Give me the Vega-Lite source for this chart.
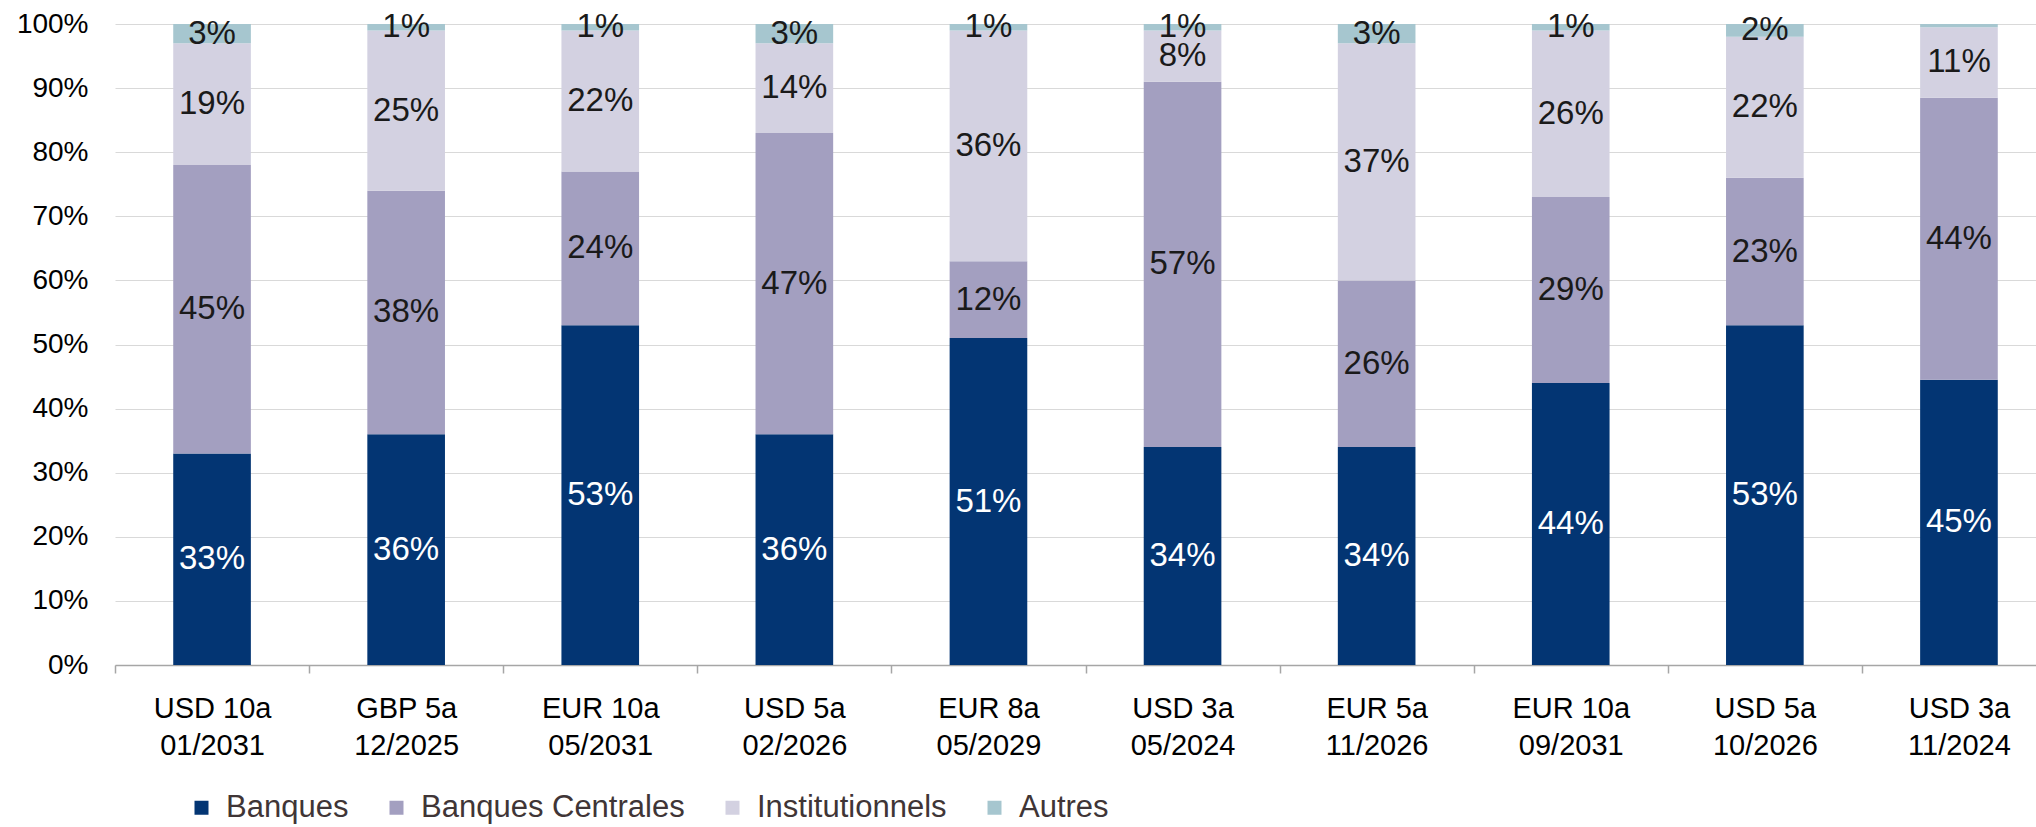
{
  "$schema": "https://vega.github.io/schema/vega-lite/v6.json",
  "autosize": {"type": "none"},
  "padding": {"left": 115, "top": 24, "right": 0, "bottom": 162},
  "width": 1921,
  "height": 641,
  "background": "white",
  "config": {
    "font": "Liberation Sans",
    "view": {"stroke": null}
  },
  "data": {
    "values": [
      {"b": "USD 10a 01/2031", "s": "Banques", "k": 0, "v": 0.33},
      {"b": "USD 10a 01/2031", "s": "Banques Centrales", "k": 1, "v": 0.45},
      {"b": "USD 10a 01/2031", "s": "Institutionnels", "k": 2, "v": 0.19},
      {"b": "USD 10a 01/2031", "s": "Autres", "k": 3, "v": 0.03},
      {"b": "GBP 5a 12/2025", "s": "Banques", "k": 0, "v": 0.36},
      {"b": "GBP 5a 12/2025", "s": "Banques Centrales", "k": 1, "v": 0.38},
      {"b": "GBP 5a 12/2025", "s": "Institutionnels", "k": 2, "v": 0.25},
      {"b": "GBP 5a 12/2025", "s": "Autres", "k": 3, "v": 0.01},
      {"b": "EUR 10a 05/2031", "s": "Banques", "k": 0, "v": 0.53},
      {"b": "EUR 10a 05/2031", "s": "Banques Centrales", "k": 1, "v": 0.24},
      {"b": "EUR 10a 05/2031", "s": "Institutionnels", "k": 2, "v": 0.22},
      {"b": "EUR 10a 05/2031", "s": "Autres", "k": 3, "v": 0.01},
      {"b": "USD 5a 02/2026", "s": "Banques", "k": 0, "v": 0.36},
      {"b": "USD 5a 02/2026", "s": "Banques Centrales", "k": 1, "v": 0.47},
      {"b": "USD 5a 02/2026", "s": "Institutionnels", "k": 2, "v": 0.14},
      {"b": "USD 5a 02/2026", "s": "Autres", "k": 3, "v": 0.03},
      {"b": "EUR 8a 05/2029", "s": "Banques", "k": 0, "v": 0.51},
      {"b": "EUR 8a 05/2029", "s": "Banques Centrales", "k": 1, "v": 0.12},
      {"b": "EUR 8a 05/2029", "s": "Institutionnels", "k": 2, "v": 0.36},
      {"b": "EUR 8a 05/2029", "s": "Autres", "k": 3, "v": 0.01},
      {"b": "USD 3a 05/2024", "s": "Banques", "k": 0, "v": 0.34},
      {"b": "USD 3a 05/2024", "s": "Banques Centrales", "k": 1, "v": 0.57},
      {"b": "USD 3a 05/2024", "s": "Institutionnels", "k": 2, "v": 0.08},
      {"b": "USD 3a 05/2024", "s": "Autres", "k": 3, "v": 0.01},
      {"b": "EUR 5a 11/2026", "s": "Banques", "k": 0, "v": 0.34},
      {"b": "EUR 5a 11/2026", "s": "Banques Centrales", "k": 1, "v": 0.26},
      {"b": "EUR 5a 11/2026", "s": "Institutionnels", "k": 2, "v": 0.37},
      {"b": "EUR 5a 11/2026", "s": "Autres", "k": 3, "v": 0.03},
      {"b": "EUR 10a 09/2031", "s": "Banques", "k": 0, "v": 0.44},
      {"b": "EUR 10a 09/2031", "s": "Banques Centrales", "k": 1, "v": 0.29},
      {"b": "EUR 10a 09/2031", "s": "Institutionnels", "k": 2, "v": 0.26},
      {"b": "EUR 10a 09/2031", "s": "Autres", "k": 3, "v": 0.01},
      {"b": "USD 5a 10/2026", "s": "Banques", "k": 0, "v": 0.53},
      {"b": "USD 5a 10/2026", "s": "Banques Centrales", "k": 1, "v": 0.23},
      {"b": "USD 5a 10/2026", "s": "Institutionnels", "k": 2, "v": 0.22},
      {"b": "USD 5a 10/2026", "s": "Autres", "k": 3, "v": 0.02},
      {"b": "USD 3a 11/2024", "s": "Banques", "k": 0, "v": 0.445},
      {"b": "USD 3a 11/2024", "s": "Banques Centrales", "k": 1, "v": 0.44},
      {"b": "USD 3a 11/2024", "s": "Institutionnels", "k": 2, "v": 0.11},
      {"b": "USD 3a 11/2024", "s": "Autres", "k": 3, "v": 0.005}
    ]
  },
  "encoding": {
    "x": {
      "field": "b",
      "type": "nominal",
      "sort": null,
      "title": null,
      "scale": {"range": [0, 1941], "paddingInner": 0.6, "paddingOuter": 0.3},
      "axis": {
        "labelAngle": 0,
        "labelExpr": "[slice(datum.value, 0, lastindexof(datum.value, ' ')), slice(datum.value, lastindexof(datum.value, ' ') + 1)]",
        "labelFontSize": 29,
        "labelColor": "#000000",
        "labelLineHeight": 37,
        "labelPadding": 21,
        "tickOffset": -97,
        "labelOffset": 97,
        "tickSize": 8,
        "tickColor": "#a6a6a6",
        "tickWidth": 1.5,
        "domainColor": "#a6a6a6",
        "domainWidth": 1.5,
        "labelBound": false,
        "labelOverlap": false
      }
    },
    "y": {
      "field": "v",
      "type": "quantitative",
      "stack": "zero",
      "title": null,
      "scale": {"domain": [0, 1], "nice": false},
      "axis": {
        "format": ".0%",
        "values": [0, 0.1, 0.2, 0.3, 0.4, 0.5, 0.6, 0.7, 0.8, 0.9, 1],
        "labelFontSize": 28,
        "labelColor": "#000000",
        "labelPadding": 27,
        "ticks": false,
        "domain": false,
        "grid": true,
        "gridColor": "#d9d9d9",
        "gridWidth": 1.2
      }
    },
    "order": {"field": "k", "type": "quantitative"}
  },
  "layer": [
    {
      "mark": {"type": "bar"},
      "encoding": {
        "color": {
          "field": "s",
          "type": "nominal",
          "scale": {
            "domain": ["Banques", "Banques Centrales", "Institutionnels", "Autres"],
            "range": ["#033573", "#a39fc0", "#d3d1e1", "#a6c6cf"]
          },
          "legend": {
            "title": null,
            "orient": "none",
            "direction": "horizontal",
            "legendX": 71,
            "legendY": 768,
            "symbolType": "square",
            "symbolSize": 196,
            "symbolStrokeWidth": 0,
            "labelFontSize": 31,
            "labelColor": "#403536",
            "labelOffset": 9,
            "columnPadding": 32,
            "labelLimit": 400
          }
        }
      }
    },
    {
      "transform": [{"filter": "datum.v >= 0.01"}],
      "mark": {"type": "text", "fontSize": 33, "baseline": "middle", "align": "center"},
      "encoding": {
        "y": {"field": "v", "type": "quantitative", "stack": "zero", "bandPosition": 0.5},
        "text": {"field": "v", "type": "quantitative", "format": ".0%"},
        "color": {
          "condition": {"test": "datum.s == 'Banques'", "value": "#ffffff"},
          "value": "#1a1a1a"
        }
      }
    }
  ]
}
